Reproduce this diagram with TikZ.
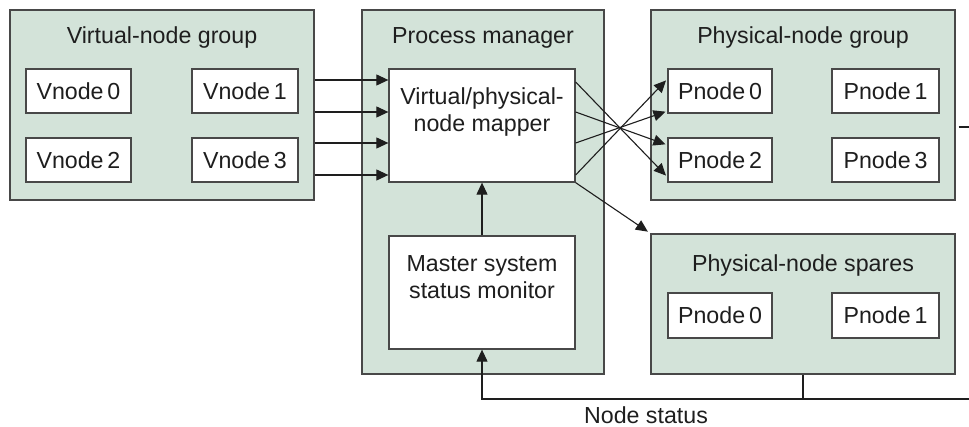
\documentclass[tikz,border=0pt]{standalone}
\usepackage{fontspec}
\setmainfont{Liberation Sans}
\usetikzlibrary{arrows.meta,calc}
\definecolor{panel}{RGB}{211,227,217}
\definecolor{edge}{RGB}{72,72,72}
\definecolor{ink}{RGB}{30,30,30}
\begin{document}
\begin{tikzpicture}[x=1pt,y=-1pt,
  font=\fontsize{23.2}{28}\selectfont,
  group/.style={draw=edge, fill=panel, line width=1.3pt, inner sep=0pt},
  box/.style={draw=edge, fill=white, line width=1.3pt, inner sep=0pt,
    text height=16.5pt, text depth=0pt, text=ink},
  txt/.style={inner sep=0pt, anchor=base, text=ink},
  link/.style={draw=ink, line width=1.1pt, -{Triangle[length=12pt,width=11pt]}},
  wire/.style={draw=ink, line width=1.1pt}]
\useasboundingbox (0,0) rectangle (969,427);

% virtual-node group
\node[group, minimum width=304pt, minimum height=190pt] (vg) at (162,105) {};
\node[txt] (vgt) at (162,44) {Virtual-node group};
\node[box, minimum width=105pt, minimum height=44pt] (vn0) at (78.5,91) {Vnode\,0};
\node[box, minimum width=106pt, minimum height=44pt] (vn1) at (245,91) {Vnode\,1};
\node[box, minimum width=105pt, minimum height=44pt] (vn2) at (78.5,160) {Vnode\,2};
\node[box, minimum width=106pt, minimum height=44pt] (vn3) at (245,160) {Vnode\,3};

% process manager
\node[group, minimum width=242pt, minimum height=364pt] (pm) at (483,192) {};
\node[txt] (pmt) at (483,44) {Process manager};
\node[box, minimum width=186pt, minimum height=113pt] (mapper) at (482,125.5) {};
\node[txt] (mapt1) at (482,105) {Virtual/physical-};
\node[txt] (mapt2) at (482,131.7) {node mapper};
\node[box, minimum width=186pt, minimum height=113pt] (mon) at (482,292.5) {};
\node[txt] (mont1) at (482,271.7) {Master system};
\node[txt] (mont2) at (482,299) {status monitor};

% physical-node group
\node[group, minimum width=304pt, minimum height=190pt] (pg) at (803,105) {};
\node[txt] (pgt) at (803,44) {Physical-node group};
\node[box, minimum width=104pt, minimum height=44pt] (pn0) at (720,91) {Pnode\,0};
\node[box, minimum width=107pt, minimum height=44pt] (pn1) at (885.5,91) {Pnode\,1};
\node[box, minimum width=104pt, minimum height=44pt] (pn2) at (720,160) {Pnode\,2};
\node[box, minimum width=107pt, minimum height=44pt] (pn3) at (885.5,160) {Pnode\,3};

% physical-node spares
\node[group, minimum width=304pt, minimum height=140pt] (sp) at (803,304) {};
\node[txt] (spt) at (803,271.7) {Physical-node spares};
\node[box, minimum width=104pt, minimum height=45pt] (sp0) at (720,315.5) {Pnode\,0};
\node[box, minimum width=107pt, minimum height=45pt] (sp1) at (885.5,315.5) {Pnode\,1};

% virtual nodes into the mapper
\foreach \yy in {80,112,143,175}
  \draw[link] (vg.east |- 0,\yy) -- (mapper.west |- 0,\yy);

% mapper out to the physical nodes
\draw[link, shorten >=2pt] (mapper.east |- 0,82)  -- (pn2.west |- 0,177);
\draw[link, shorten >=2pt] (mapper.east |- 0,112) -- (pn2.west |- 0,145);
\draw[link, shorten >=2pt] (mapper.east |- 0,143) -- (pn0.west |- 0,111);
\draw[link, shorten >=2pt] (mapper.east |- 0,175) -- (pn0.west |- 0,79);
\draw[link, shorten >=3pt] (mapper.south east) -- (sp.north west);

% status monitor to mapper
\draw[link] (mon.north) -- (mapper.south);

% status feedback
\coordinate (stub) at (969,127);
\coordinate (fbend) at (969,399);
\draw[wire] ([xshift=3pt]pg.east |- stub) -- (stub);
\draw[wire] (sp.south) -- (sp.south |- fbend);
\draw[link] (fbend) -- (mon.south |- fbend) -- (mon.south);
\node[txt] (nst) at (646,423) {Node status};
\end{tikzpicture}
\end{document}
